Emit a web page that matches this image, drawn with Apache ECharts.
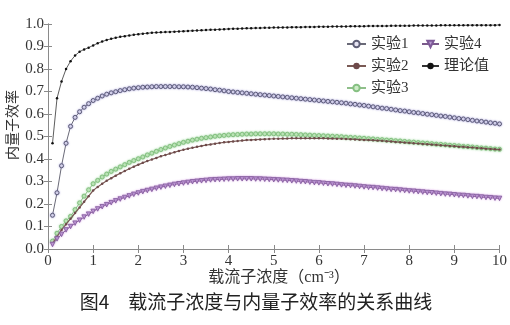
<!DOCTYPE html>
<html><head><meta charset="utf-8">
<script src="https://cdn.jsdelivr.net/npm/echarts@6/dist/echarts.min.js"></script>
<style>html,body{margin:0;padding:0;background:#fff}#c{width:510px;height:325px}</style>
</head><body><div id="c"></div>
<script>
const xValues = [
0.1,0.2,0.3,0.4,0.5,0.6,0.7,0.8,0.9,1.0,
1.1,1.2,1.3,1.4,1.5,1.6,1.7,1.8,1.9,2.0,
2.1,2.2,2.3,2.4,2.5,2.6,2.7,2.8,2.9,3.0,
3.1,3.2,3.3,3.4,3.5,3.6,3.7,3.8,3.9,4.0,
4.1,4.2,4.3,4.4,4.5,4.6,4.7,4.8,4.9,5.0,
5.1,5.2,5.3,5.4,5.5,5.6,5.7,5.8,5.9,6.0,
6.1,6.2,6.3,6.4,6.5,6.6,6.7,6.8,6.9,7.0,
7.1,7.2,7.3,7.4,7.5,7.6,7.7,7.8,7.9,8.0,
8.1,8.2,8.3,8.4,8.5,8.6,8.7,8.8,8.9,9.0,
9.1,9.2,9.3,9.4,9.5,9.6,9.7,9.8,9.9,10.0];

const theory = [
.47,.67,.745,.80,.835,.86,.877,.887,.895,.905,
.914,.922,.929,.934,.939,.943,.946,.949,.952,.955,
.957,.959,.961,.962,.963,.964,.965,.966,.967,.968,
.969,.970,.971,.972,.973,.974,.975,.976,.977,.978,
.979,.979,.980,.981,.981,.982,.982,.983,.983,.984,
.984,.985,.985,.986,.986,.986,.987,.987,.987,.988,
.988,.988,.989,.989,.989,.989,.990,.990,.990,.990,
.991,.991,.991,.991,.991,.992,.992,.992,.992,.992,
.993,.993,.993,.993,.993,.993,.994,.994,.994,.994,
.994,.994,.995,.995,.995,.995,.995,.995,.995,.996];

const exp1 = [
.15,.25,.37,.47,.545,.585,.61,.63,.646,.66,
.67,.68,.688,.694,.699,.704,.708,.712,.715,.717,
.719,.72,.721,.722,.722,.722,.722,.722,.721,.721,
.72,.719,.717,.715,.713,.711,.708,.706,.703,.70,
.698,.696,.694,.692,.69,.688,.686,.684,.682,.68,
.678,.676,.674,.672,.67,.668,.666,.664,.662,.66,
.658,.656,.654,.652,.65,.648,.645,.643,.64,.638,
.635,.632,.629,.626,.624,.621,.618,.615,.613,.61,
.607,.605,.602,.599,.597,.594,.591,.589,.586,.583,
.58,.578,.575,.572,.569,.567,.564,.561,.559,.556];

const exp2 = [
.025,.055,.085,.11,.135,.16,.185,.21,.235,.26,
.276,.29,.303,.315,.326,.337,.347,.357,.366,.375,
.383,.391,.398,.405,.412,.418,.424,.43,.436,.441,
.446,.45,.454,.458,.462,.465,.468,.471,.474,.476,
.478,.48,.482,.484,.485,.486,.487,.488,.489,.49,
.49,.491,.491,.492,.492,.492,.492,.492,.492,.492,
.492,.491,.491,.49,.49,.489,.488,.487,.486,.485,
.484,.483,.482,.481,.479,.478,.476,.475,.473,.472,
.47,.469,.467,.466,.464,.463,.461,.46,.458,.457,
.455,.454,.452,.451,.449,.448,.446,.445,.443,.442];

const exp3 = [
.035,.07,.10,.125,.145,.175,.205,.235,.263,.29,
.305,.32,.333,.345,.355,.365,.375,.385,.393,.401,
.409,.418,.426,.434,.442,.449,.456,.462,.468,.474,
.479,.484,.488,.492,.495,.498,.501,.503,.505,.507,
.508,.509,.51,.511,.511,.512,.512,.512,.512,.512,
.511,.511,.51,.51,.509,.508,.507,.506,.505,.504,
.503,.502,.501,.50,.499,.497,.496,.495,.493,.492,
.49,.489,.487,.486,.484,.483,.481,.48,.478,.476,
.475,.473,.471,.47,.468,.466,.465,.463,.461,.46,
.458,.456,.455,.453,.451,.449,.448,.446,.444,.443];

const exp4 = [
.02,.045,.065,.085,.10,.115,.128,.142,.155,.167,
.178,.188,.197,.206,.214,.222,.229,.236,.243,.249,
.255,.26,.265,.27,.275,.279,.283,.287,.29,.293,
.296,.299,.301,.303,.305,.307,.308,.309,.31,.311,
.311,.312,.312,.312,.312,.311,.311,.31,.309,.308,
.307,.306,.305,.303,.302,.30,.299,.297,.295,.294,
.292,.29,.289,.287,.285,.283,.282,.28,.278,.276,
.274,.273,.271,.269,.267,.265,.264,.262,.26,.258,
.257,.255,.253,.251,.25,.248,.246,.244,.243,.241,
.239,.238,.236,.234,.233,.231,.229,.228,.226,.225];

const seriesNames = ['实验1','实验2','实验3','实验4','理论值'];
const xTicks = [0,1,2,3,4,5,6,7,8,9,10];
const yTickLabels = ['0.0','0.1','0.2','0.3','0.4','0.5','0.6','0.7','0.8','0.9','1.0'];
const xAxisTitle = '载流子浓度（cm⁻³）';
const yAxisTitle = '内量子效率';
const figTitle = '图4\u3000载流子浓度与内量子效率的关系曲线';

const pair = arr => arr.map((v, i) => [xValues[i], v]);
const serif = "'Liberation Serif','Noto Sans CJK SC',serif";
const axisColor = '#8a8a8a';

const chart = echarts.init(document.getElementById('c'));
chart.setOption({
  backgroundColor: '#fff',
  animation: false,
  grid: {left: 48, right: 6, top: 24, bottom: 76, containLabel: false},
  legend: [
    {data: [seriesNames[0], seriesNames[1], seriesNames[2]], orient: 'vertical', left: 346, top: 36,
     padding: 0, itemWidth: 19, itemHeight: 8, itemGap: 6,
     textStyle: {fontFamily: serif, fontSize: 15, color: '#333', lineHeight: 16}},
    {data: [seriesNames[3], seriesNames[4]], orient: 'vertical', left: 421, top: 36,
     padding: 0, itemWidth: 17, itemHeight: 8, itemGap: 6,
     textStyle: {fontFamily: serif, fontSize: 15, color: '#333', lineHeight: 16}}
  ],
  xAxis: [
    {type: 'value', min: 0, max: 10, interval: 1, position: 'bottom',
     axisLine: {lineStyle: {color: axisColor, width: 1}},
     axisTick: {inside: true, length: 4, lineStyle: {color: axisColor}},
     splitLine: {show: false},
     axisLabel: {fontFamily: serif, fontSize: 15, color: '#333', margin: 5,
       formatter: v => xTicks.indexOf(v) >= 0 ? String(v) : ''}},
    {type: 'value', min: 0, max: 10, interval: 1, position: 'top',
     axisLine: {lineStyle: {color: axisColor, width: 1}},
     axisTick: {inside: true, length: 4, lineStyle: {color: axisColor}},
     splitLine: {show: false}, axisLabel: {show: false}}
  ],
  yAxis: [
    {type: 'value', min: 0, max: 1, interval: 0.1, position: 'left',
     axisLine: {show: true, lineStyle: {color: axisColor, width: 1}},
     axisTick: {show: true, inside: true, length: 4, lineStyle: {color: axisColor}},
     splitLine: {show: false},
     axisLabel: {fontFamily: serif, fontSize: 15, color: '#333', margin: 4,
       formatter: v => yTickLabels[Math.round(v * 10)]}},
    {type: 'value', min: 0, max: 1, interval: 0.1, position: 'right',
     axisLine: {show: true, lineStyle: {color: axisColor, width: 1}},
     axisTick: {show: true, inside: true, length: 4, lineStyle: {color: axisColor}},
     splitLine: {show: false}, axisLabel: {show: false}}
  ],
  graphic: [
    {type: 'text', x: 279, y: 278, silent: true,
     style: {text: xAxisTitle, font: "16px 'Liberation Serif','Noto Sans CJK SC',serif", fill: '#333',
       align: 'center', verticalAlign: 'middle'}},
    {type: 'text', x: 12, y: 125, rotation: Math.PI / 2, silent: true,
     style: {text: yAxisTitle, font: "14px 'Noto Sans CJK SC',serif", fill: '#333',
       align: 'center', verticalAlign: 'middle'}},
    {type: 'text', x: 256, y: 302, silent: true,
     style: {text: figTitle, font: "19px 'Noto Sans CJK SC',sans-serif", fill: '#222',
       align: 'center', verticalAlign: 'middle'}}
  ],
  series: [
    {name: seriesNames[4], type: 'line', data: pair(theory), symbol: 'circle', symbolSize: 2.5,
     lineStyle: {color: '#333', width: 0.8}, itemStyle: {color: '#111'}, z: 6},
    {name: seriesNames[0], type: 'line', data: pair(exp1), symbol: 'circle', symbolSize: 4,
     lineStyle: {color: '#6a6a78', width: 1},
     itemStyle: {color: '#e6e4f2', borderColor: '#5e5e76', borderWidth: 1, shadowBlur: 2, shadowColor: 'rgba(120,110,200,0.6)'}, z: 5},
    {name: seriesNames[2], type: 'line', data: pair(exp3), symbol: 'circle', symbolSize: 4,
     lineStyle: {color: '#8fbf8a', width: 1},
     itemStyle: {color: '#cdebc7', borderColor: '#86c082', borderWidth: 1, shadowBlur: 2, shadowColor: 'rgba(120,200,120,0.7)'}, z: 3},
    {name: seriesNames[1], type: 'line', data: pair(exp2), symbol: 'circle', symbolSize: 2.5,
     lineStyle: {color: '#7a5a55', width: 1.2},
     itemStyle: {color: '#6e4a4a'}, z: 4},
    {name: seriesNames[3], type: 'line', data: pair(exp4), symbol: 'triangle', symbolSize: 4.5, symbolRotate: 180,
     lineStyle: {color: '#7a5a8a', width: 1},
     itemStyle: {color: '#b89ad0', borderColor: '#7e5a98', borderWidth: 0.8, shadowBlur: 2, shadowColor: 'rgba(200,120,220,0.6)'}, z: 4}
  ]
});
</script>
</body></html>
